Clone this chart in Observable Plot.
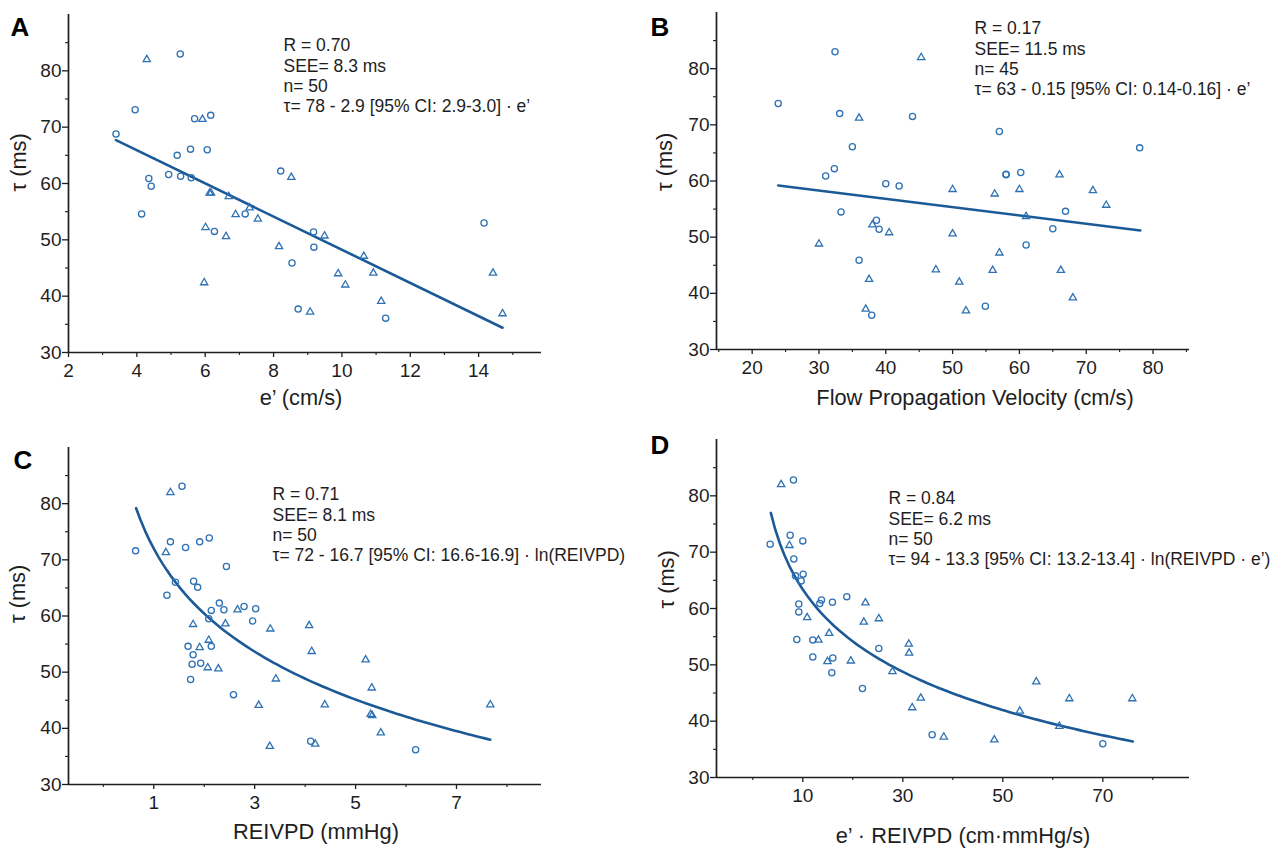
<!DOCTYPE html>
<html><head><meta charset="utf-8">
<script src="https://cdn.jsdelivr.net/npm/d3@7"></script>
<script src="https://cdn.jsdelivr.net/npm/@observablehq/plot@0.6"></script>
<style>
body{margin:0;background:#fff;}
#wrap{position:relative;width:1288px;height:849px;overflow:hidden;background:#fff;}
</style></head><body><div id="wrap"></div>
<script>
// ---------- Panel A: e' (cm/s) ----------
const aCircleX = [5.27,3.95,5.69,6.16,3.39,5.18,5.57,6.06,4.35,4.42,4.93,5.28,5.59,4.14,6.27,7.17,8.21,8.54,8.72,9.17,9.18,14.16,11.28];
const aCircleY = [83.0,73.1,71.5,72.1,68.8,65.0,66.1,66.0,60.9,59.5,61.6,61.3,61.0,54.6,51.5,54.6,62.2,45.9,37.7,51.4,48.7,53.0,36.1];
const aTriX = [4.29,5.92,6.13,6.17,6.69,6.89,7.30,7.54,6.01,6.61,5.97,8.16,8.52,9.07,9.49,9.89,10.10,10.64,10.92,11.15,14.42,14.70];
const aTriY = [82.0,71.4,58.3,58.3,57.7,54.5,55.7,53.7,52.2,50.6,42.4,48.8,61.1,37.2,50.7,44.0,42.0,47.1,44.1,39.1,44.1,36.9];
const aFitX = [3.39, 14.70];
const aFitY = [67.7, 34.4];
const aXTicks = [2,4,6,8,10,12,14];
const aXMinor = [3,5,7,9,11,13,15];
const aText = "R = 0.70\nSEE= 8.3 ms\nn= 50\nτ= 78 - 2.9 [95% CI: 2.9-3.0] · e’";

// ---------- Panel B: Flow Propagation Velocity ----------
const bCircleX = [32.4,23.9,33.1,44.0,35.0,31.0,32.3,40.0,42.0,33.3,38.6,39.0,36.0,37.9,57.0,78.0,58.0,58.0,60.2,66.9,65.0,61.0,54.9];
const bCircleY = [83.0,73.8,72.0,71.5,66.1,60.9,62.2,59.5,59.1,54.5,53.0,51.4,45.9,36.1,68.8,65.9,61.1,61.2,61.5,54.6,51.5,48.6,37.7];
const bTriX = [45.3,36.0,30.0,38.0,40.5,37.5,37.0,50.0,50.0,47.5,51.0,52.0,56.3,60.0,66.0,71.0,73.0,61.0,57.0,56.0,66.2,68.0];
const bTriY = [82.0,71.2,48.8,52.2,50.8,42.5,37.2,58.5,50.6,44.2,42.0,36.9,57.7,58.5,61.1,58.3,55.7,53.7,47.2,44.1,44.1,39.2];
const bFitX = [23.9, 78.1];
const bFitY = [59.2, 51.2];
const bXTicks = [20,30,40,50,60,70,80];
const bXMinor = [15,25,35,45,55,65,75,85];
const bText = "R = 0.17\nSEE= 11.5 ms\nn= 45\nτ= 63 - 0.15 [95% CI: 0.14-0.16] · e’";

// ---------- Panel C: REIVPD (mmHg) ----------
const cCircleX = [0.64,1.56,1.33,1.63,1.91,2.10,1.26,1.43,1.79,1.87,2.44,2.30,2.14,2.39,2.09,2.79,3.02,2.96,1.68,1.78,1.76,1.93,2.14,1.73,2.58,4.11,6.19];
const cCircleY = [71.6,83.1,73.2,72.2,73.2,73.9,63.7,66.0,66.2,65.1,68.8,62.3,61.0,61.1,59.5,61.7,61.3,59.1,54.6,53.1,51.4,51.6,54.6,48.7,46.0,37.7,36.2];
const cTriX = [1.33,1.24,1.78,2.42,2.66,3.31,1.91,2.09,2.07,2.28,3.42,3.08,3.30,4.08,4.13,4.20,5.20,5.32,4.39,5.30,5.33,5.50,7.67];
const cTriY = [82.0,71.3,58.5,58.6,61.1,57.7,54.4,55.7,50.8,50.6,48.8,44.1,36.8,58.3,53.7,37.2,52.2,47.2,44.2,42.5,42.3,39.2,44.2];
const cFit = [72, 16.7];          // τ = 72 - 16.7·ln(x), as printed
const cFitRange = [0.65, 7.67];
const cXTicks = [1,3,5,7];
const cXMinor = [0,2,4,6,8];
const cText = "R = 0.71\nSEE= 8.1 ms\nn= 50\nτ= 72 - 16.7 [95% CI: 16.6-16.9] · ln(REIVPD)";

// ---------- Panel D: e' · REIVPD ----------
const dCircleX = [8.13,3.47,7.47,10.0,8.2,8.53,10.07,9.67,9.2,9.2,8.8,12.0,12.0,13.73,13.4,15.93,18.8,16.0,15.8,21.93,25.2,35.87,70.0];
const dCircleY = [82.8,71.4,73.0,72.0,68.8,65.8,66.1,64.9,60.8,59.4,54.5,54.4,51.4,61.5,60.9,61.1,62.1,51.2,48.6,45.8,52.9,37.6,36.0];
const dTriX = [5.67,7.33,10.87,13.13,15.27,14.93,19.6,22.53,22.2,25.2,31.2,31.27,27.93,33.6,31.87,38.2,48.3,53.4,56.7,63.3,61.3,75.9];
const dTriY = [82.0,71.2,58.4,54.4,55.6,50.6,50.7,61.0,57.6,58.2,53.7,52.1,48.8,44.1,42.4,37.2,36.7,41.8,47.0,44.0,39.1,44.0];
const dFit = [94, 13.3];          // τ = 94 - 13.3·ln(x), as printed
const dFitRange = [3.6, 76];
const dXTicks = [10,30,50,70];
const dXMinor = [0,20,40,60,80];
const dText = "R = 0.84\nSEE= 6.2 ms\nn= 50\nτ= 94 - 13.3 [95% CI: 13.2-13.4] · ln(REIVPD · e’)";

const yTicks = [30,40,50,60,70,80];
const yMinor = [35,45,55,65,75,85];

const PT = "#2f72b3", LN = "#1b5a96", AX = "#1e1e1e";
const FONT = "'Liberation Sans', Arial, Helvetica, sans-serif";

const pts = (xs, ys) => xs.map((x, i) => ({x, y: ys[i]}));
const logFit = ([a, b], [x0, x1]) => d3.range(81).map(i => {
  const x = x0 + (x1 - x0) * i / 80; return {x, y: a - b * Math.log(x)};
});

function panel(c) {
  const svg = Plot.plot({
    width: c.width, height: c.height,
    marginLeft: c.mL, marginRight: c.mR, marginTop: c.mT, marginBottom: c.mB,
    x: {domain: c.xDomain},
    y: {domain: [30, 90]},
    style: {fontFamily: FONT, fontSize: "19px", color: AX, background: "transparent", overflow: "visible"},
    marks: [
      Plot.axisX({ticks: c.xTicks, tickSize: 5, tickPadding: 6, label: null, fontSize: 19, strokeWidth: 1.3}),
      Plot.axisX({ticks: c.xMinor, tickSize: 3, tickFormat: () => "", label: null, strokeWidth: 1.1}),
      Plot.axisY({ticks: yTicks, tickSize: 6, tickPadding: 1, label: null, fontSize: 19, strokeWidth: 1.3}),
      Plot.axisY({ticks: yMinor, tickSize: 3, tickFormat: () => "", label: null, strokeWidth: 1.1}),
      Plot.ruleX([c.xDomain[0]], {stroke: AX, strokeWidth: 1.7}),
      Plot.ruleY([30], {stroke: AX, strokeWidth: 1.7}),
      Plot.line(c.fit, {x: "x", y: "y", stroke: LN, strokeWidth: 2.6}),
      Plot.dot(c.circles, {x: "x", y: "y", r: 3.1, symbol: "circle", stroke: PT, strokeWidth: 1.3, fill: "none"}),
      Plot.dot(c.tris, {x: "x", y: "y", r: 2.7, symbol: "triangle", stroke: PT, strokeWidth: 1.3, fill: "none"}),
      Plot.text([c.ann], {text: d => d, frameAnchor: "top-left", dx: c.annDx, dy: c.annDy, textAnchor: "start", lineAnchor: "top", lineHeight: 1.17, fontSize: 17.5, fill: AX}),
      Plot.text([c.letter], {text: d => d, frameAnchor: "top-left", dx: c.letDx, dy: c.letDy, textAnchor: "start", lineAnchor: "top", fontSize: 26, fontWeight: "bold", fill: "#000"}),
      Plot.text([c.xLabel], {text: d => d, frameAnchor: "bottom", dx: c.xlDx, dy: c.xlDy, lineAnchor: "middle", fontSize: 21.8, fill: AX}),
      Plot.text(["τ (ms)"], {text: d => d, frameAnchor: "left", dx: c.ylDx, dy: c.ylDy, rotate: -90, lineAnchor: "middle", fontSize: 21.8, fill: AX})
    ]
  });
  svg.style.position = "absolute";
  svg.style.left = c.left + "px";
  svg.style.top = c.top + "px";
  document.getElementById("wrap").appendChild(svg);
}

panel({left: 0, top: 0, width: 560, height: 420, mL: 68, mR: 19, mT: 14, mB: 68,
  xDomain: [2, 15.84], xTicks: aXTicks, xMinor: aXMinor,
  circles: pts(aCircleX, aCircleY), tris: pts(aTriX, aTriY), fit: pts(aFitX, aFitY),
  ann: aText, annDx: 215, annDy: 22, letter: "A", letDx: -58, letDy: 3,
  xLabel: "e’ (cm/s)", xlDx: -4, xlDy: 46, ylDx: -49, ylDy: 8});

panel({left: 640, top: 0, width: 648, height: 420, mL: 76, mR: 99, mT: 12, mB: 71,
  xDomain: [14.66, 85.46], xTicks: bXTicks, xMinor: bXMinor,
  circles: pts(bCircleX, bCircleY), tris: pts(bTriX, bTriY), fit: pts(bFitX, bFitY),
  ann: bText, annDx: 258, annDy: 7, letter: "B", letDx: -66, letDy: 5,
  xLabel: "Flow Propagation Velocity (cm/s)", xlDx: 22, xlDy: 49, ylDx: -51, ylDy: 10});

panel({left: 0, top: 420, width: 560, height: 429, mL: 68, mR: 19, mT: 27, mB: 65,
  xDomain: [-0.69, 8.685], xTicks: cXTicks, xMinor: cXMinor,
  circles: pts(cCircleX, cCircleY), tris: pts(cTriX, cTriY), fit: logFit(cFit, cFitRange),
  ann: cText, annDx: 204, annDy: 38, letter: "C", letDx: -55, letDy: 3,
  xLabel: "REIVPD (mmHg)", xlDx: 11, xlDy: 48, ylDx: -50, ylDy: 7});

panel({left: 640, top: 420, width: 648, height: 429, mL: 76, mR: 99, mT: 19, mB: 72,
  xDomain: [-7.26, 87.34], xTicks: dXTicks, xMinor: dXMinor,
  circles: pts(dCircleX, dCircleY), tris: pts(dTriX, dTriY), fit: logFit(dFit, dFitRange),
  ann: dText, annDx: 172, annDy: 50, letter: "D", letDx: -66, letDy: -4,
  xLabel: "e’ · REIVPD (cm·mmHg/s)", xlDx: 10, xlDy: 59, ylDx: -49, ylDy: 0});
</script></body></html>
